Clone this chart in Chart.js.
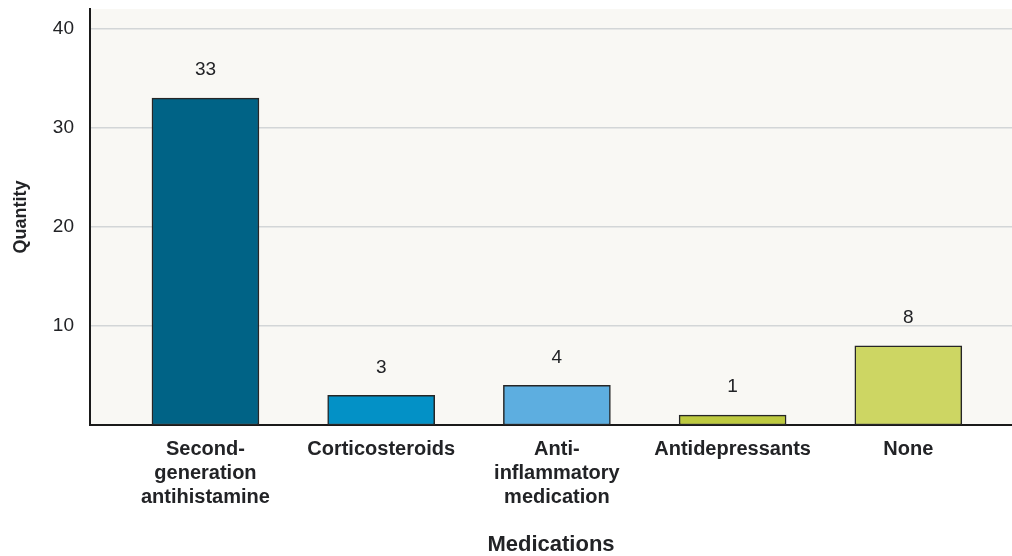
<!DOCTYPE html>
<html>
<head>
<meta charset="utf-8">
<title>Medications</title>
<script src="https://cdn.jsdelivr.net/npm/chart.js@4/dist/chart.umd.min.js"></script>
<style>
  html, body { margin: 0; padding: 0; background: #ffffff; }
  #wrap { width: 1012px; height: 556px; position: relative; }
</style>
</head>
<body>
<div id="wrap"><canvas id="chart" width="1012" height="556"></canvas></div>
<script>
// Category labels (multi-line where the label wraps)
const categories = [
  ['Second-', 'generation', 'antihistamine'],
  ['Corticosteroids'],
  ['Anti-', 'inflammatory', 'medication'],
  ['Antidepressants'],
  ['None']
];
// Quantity per medication group
const quantities = [33, 3, 4, 1, 8];
// Y-axis tick values
const yTicks = [10, 20, 30, 40];
// Bar fill colours
const barColors = ['#006386', '#0391c6', '#5daee0', '#bdc93f', '#cdd663'];

const FONT = "'Liberation Sans', Arial, Helvetica, sans-serif";
const TEXT = '#222326';

// Off-white plot background
const plotBackground = {
  id: 'plotBackground',
  beforeDraw(chart) {
    const { ctx, chartArea: a } = chart;
    ctx.save();
    ctx.fillStyle = '#f9f8f4';
    ctx.fillRect(a.left, a.top, a.right - a.left, a.bottom - a.top);
    ctx.restore();
  }
};

// Value labels above each bar
const valueLabels = {
  id: 'valueLabels',
  afterDatasetsDraw(chart) {
    const { ctx } = chart;
    const meta = chart.getDatasetMeta(0);
    ctx.save();
    ctx.font = '19px ' + FONT;
    ctx.fillStyle = TEXT;
    ctx.textAlign = 'center';
    ctx.textBaseline = 'middle';
    meta.data.forEach((bar, i) => {
      ctx.fillText(String(quantities[i]), bar.x, bar.y - 28);
    });
    ctx.restore();
  }
};

new Chart(document.getElementById('chart'), {
  type: 'bar',
  data: {
    datasets: [{
      data: quantities.map((v, i) => ({ x: i, y: v })),
      backgroundColor: barColors,
      borderColor: '#262626',
      borderWidth: 1.5,
      borderSkipped: false,
      barThickness: 107
    }]
  },
  options: {
    responsive: false,
    animation: false,
    events: [],
    layout: { padding: { top: 9, left: 0, right: 0, bottom: 0 } },
    plugins: {
      legend: { display: false },
      tooltip: { enabled: false }
    },
    scales: {
      x: {
        type: 'linear',
        offset: false,
        min: -0.657,
        max: 4.59,
        afterFit(scale) {
          scale.height = 131;
          scale.paddingLeft = 0;
          scale.paddingRight = 0;
        },
        afterBuildTicks(scale) {
          scale.ticks = categories.map((c, i) => ({ value: i }));
        },
        grid: { display: false, drawTicks: false, offset: false },
        border: { display: true, color: '#1a1a1a', width: 2 },
        ticks: {
          autoSkip: false,
          maxRotation: 0,
          minRotation: 0,
          padding: 12,
          color: TEXT,
          font: { family: FONT, size: 20, weight: 'bold', lineHeight: 1.2 },
          callback: (v) => categories[v] || ''
        },
        title: {
          display: true,
          text: 'Medications',
          color: TEXT,
          font: { family: FONT, size: 22, weight: 'bold', lineHeight: 1.0 },
          padding: { top: 0, bottom: 0 }
        }
      },
      y: {
        min: 0,
        max: 42,
        afterFit(scale) {
          scale.width = 90;
          scale.paddingTop = 0;
          scale.paddingBottom = 0;
        },
        afterBuildTicks(scale) {
          scale.ticks = yTicks.map(v => ({ value: v }));
        },
        grid: { color: '#d3d6d7', lineWidth: 1.5, drawTicks: false },
        border: { display: true, color: '#1a1a1a', width: 2 },
        ticks: {
          padding: 16,
          color: TEXT,
          font: { family: FONT, size: 19 }
        },
        title: {
          display: true,
          text: 'Quantity',
          color: TEXT,
          font: { family: FONT, size: 18, weight: 'bold', lineHeight: 1.2 },
          padding: { top: 10, bottom: 0 }
        }
      }
    }
  },
  plugins: [plotBackground, valueLabels]
});
</script>
</body>
</html>
